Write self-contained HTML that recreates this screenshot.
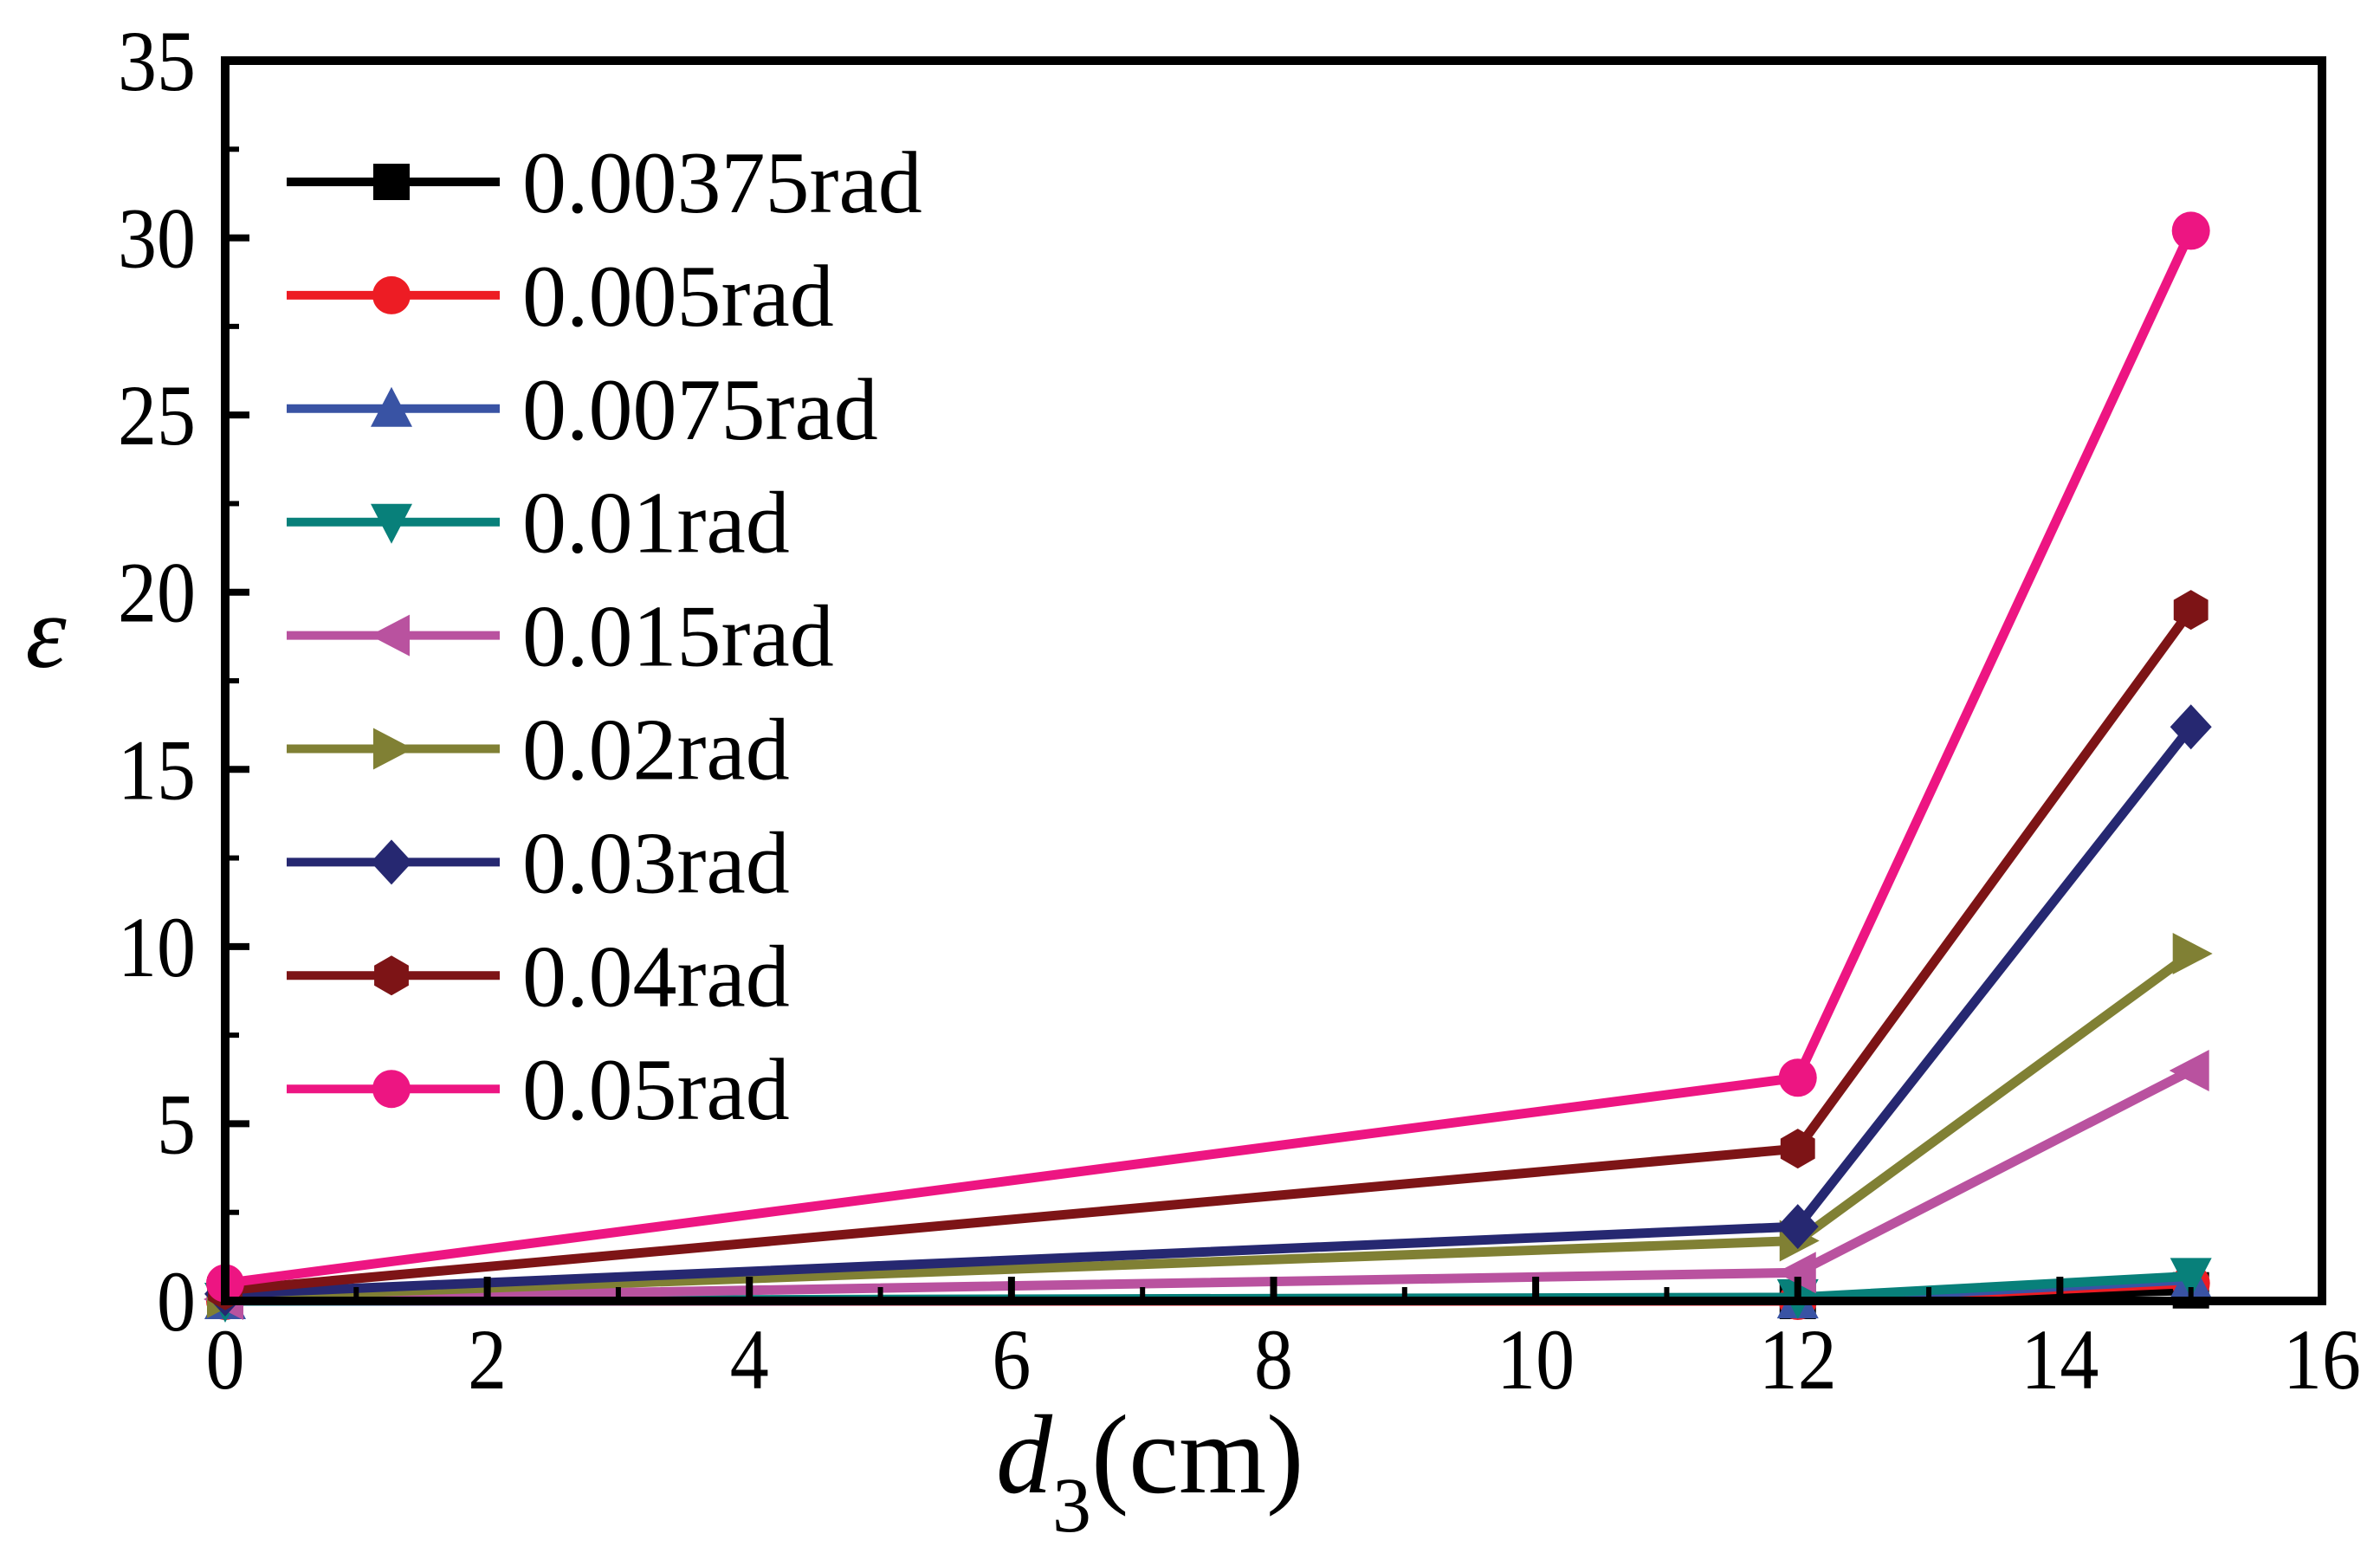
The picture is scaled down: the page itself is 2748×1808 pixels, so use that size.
<!DOCTYPE html>
<html><head><meta charset="utf-8"><style>html,body{margin:0;padding:0;background:#fff}svg{display:block}</style></head>
<body>
<svg id="chart" xmlns="http://www.w3.org/2000/svg" width="2748" height="1808" viewBox="0 0 2748 1808" font-family="'Liberation Serif', serif">
<g id="plot"></g>
</svg>
<script>
const xValues = [0, 12, 15];
const seriesNames = ["0.00375rad","0.005rad","0.0075rad","0.01rad","0.015rad","0.02rad","0.03rad","0.04rad","0.05rad"];
const s00375 = [0, 0, 0.3];
const s005 = [0, 0, 0.5];
const s0075 = [0, 0.02, 0.6];
const s01 = [0, 0.1, 0.7];
const s015 = [0.05, 0.8, 6.5];
const s02 = [0.1, 1.7, 9.8];
const s03 = [0.2, 2.1, 16.2];
const s04 = [0.3, 4.3, 19.5];
const s05 = [0.5, 6.3, 30.2];
const xTicks = [0,2,4,6,8,10,12,14,16];
const yTicks = [0,5,10,15,20,25,30,35];

const colors = ["#000000","#ed1c24","#3953a4","#08807a","#b9529f","#808034","#262871","#7d1416","#ed1582"];
const markers = ["square","circle","up","down","left","right","diamond","hexagon","circle"];
const allSeries = [s00375,s005,s0075,s01,s015,s02,s03,s04,s05];

const L=260,R=2681,T=70,B=1502;
const xs = v => L + (v-0)/(16-0)*(R-L);
const ys = v => B - (v-0)/(35-0)*(B-T);
const NS="http://www.w3.org/2000/svg";
const g=document.getElementById('plot');
function mk(tag,attrs,parent){const e=document.createElementNS(NS,tag);for(const k in attrs)e.setAttribute(k,attrs[k]);(parent||g).appendChild(e);return e;}

function marker(type,cx,cy,color,parent){
  const s=21;let e;
  if(type==="square") e=mk('rect',{x:cx-s,y:cy-s,width:2*s,height:2*s,fill:color},parent);
  else if(type==="circle") e=mk('circle',{cx:cx,cy:cy,r:s+1,fill:color},parent);
  else {
    let p;
    if(type==="up") p=[[0,-s-4],[s+3,s],[-s-3,s]];
    else if(type==="down") p=[[0,s+4],[s+3,-s],[-s-3,-s]];
    else if(type==="left") p=[[-s-4,0],[s,-s-3],[s,s+3]];
    else if(type==="right") p=[[s+4,0],[-s,-s-3],[-s,s+3]];
    else if(type==="diamond") p=[[0,-s-5],[s+3,0],[0,s+5],[-s-3,0]];
    else {p=[];for(let i=0;i<6;i++){const a=Math.PI/6+i*Math.PI/3;p.push([(s+2)*Math.cos(a),(s+2)*Math.sin(a)]);}}
    e=mk('polygon',{points:p.map(q=>(cx+q[0])+","+(cy+q[1])).join(" "),fill:color},parent);
  }
  return e;
}

allSeries.forEach((vals,i)=>{
  const grp=mk('g',{});
  
  
  const pl=mk('polyline',{points:vals.map((v,j)=>xs(xValues[j])+","+ys(v)).join(" "),fill:"none",stroke:colors[i],"stroke-width":11,"stroke-linejoin":"miter"},grp);
  
  
  vals.forEach((v,j)=>{
    const m=marker(markers[i],xs(xValues[j]),ys(v),colors[i],grp);
    
    
  });
});

const frame=mk('rect',{x:L,y:T,width:R-L,height:B-T,fill:"none",stroke:"#000","stroke-width":10});



xTicks.forEach(t=>{
  const x=xs(t);
  mk('line',{x1:x,y1:B,x2:x,y2:B-28,stroke:"#000","stroke-width":8});
  if(t<16) mk('line',{x1:xs(t+1),y1:B,x2:xs(t+1),y2:B-16,stroke:"#000","stroke-width":6});
  const tx=mk('text',{x:0,y:0,"font-size":100,"text-anchor":"middle",transform:`translate(${x},1603) scale(0.9,1)`});
  tx.textContent=t;
  
  
});
yTicks.forEach(t=>{
  const y=ys(t);
  mk('line',{x1:L,y1:y,x2:L+28,y2:y,stroke:"#000","stroke-width":8});
  if(t<35) mk('line',{x1:L,y1:ys(t+2.5),x2:L+16,y2:ys(t+2.5),stroke:"#000","stroke-width":6});
  const tx=mk('text',{x:0,y:0,"font-size":100,"text-anchor":"end",transform:`translate(226,${y+34}) scale(0.9,1)`});
  tx.textContent=t;
  
  
});

const xt=mk('text',{x:1150,y:1723,"font-size":130});
xt.innerHTML='<tspan font-style="italic">d</tspan><tspan font-size="90" dy="45">3</tspan><tspan dy="-45">(cm)</tspan>';


const yt=mk('text',{x:53,y:770,"font-size":120,"font-style":"italic","text-anchor":"middle"});
yt.textContent='ε';



const leg=mk('g',{});


seriesNames.forEach((n,i)=>{
  const cy=210+i*130.9;
  const e=mk('g',{},leg);
  
  
  mk('line',{x1:331,y1:cy,x2:577,y2:cy,stroke:colors[i],"stroke-width":10},e);
  marker(markers[i],452,cy,colors[i],e);
  const t=mk('text',{x:603,y:cy+35,"font-size":102},e);
  t.textContent=n;
});
</script>
</body></html>
